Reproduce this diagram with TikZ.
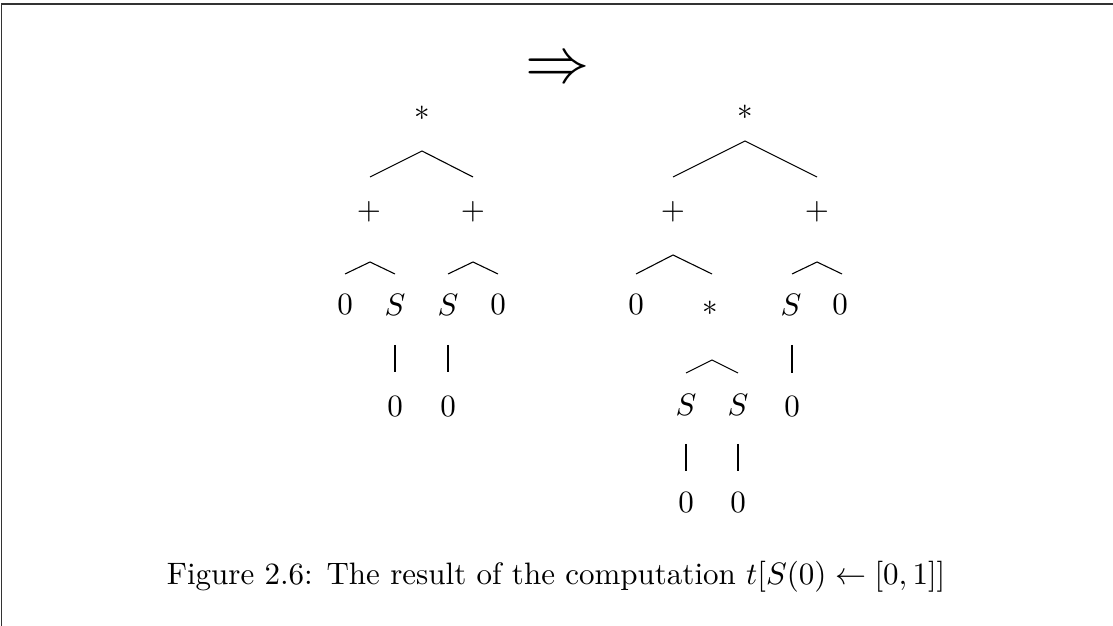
\documentclass[tikz,border=0pt]{standalone}
\usepackage{amsmath}
\begin{document}
\begin{tikzpicture}[x=0.3226pt,y=-0.3226pt,
  sym/.style={inner sep=0pt, anchor=center},
  edge/.style={line width=0.35pt},
  frame/.style={black!80, line width=0.5pt}]
\useasboundingbox (0,0) rectangle (1113,626);
% page frame
\coordinate (fl) at (1.5,626);
\coordinate (ftl) at (1.5,4);
\coordinate (ftr) at (1113,4);
\draw[frame] (fl) -- (ftl) -- (ftr);

% arrow between the trees
\node[sym] (arr) at (558,71) {\fontsize{19.5}{20}\selectfont$\Rightarrow$};

% ---- left tree ----
\node[sym] (Lr)  at (422,113) {$*$};
\node[sym] (Lp1) at (369,212) {$+$};
\node[sym] (Lp2) at (473,212) {$+$};
\node[sym] (La)  at (345,305) {$0$};
\node[sym] (Lb)  at (395,305) {$S$};
\node[sym] (Lc)  at (448,305) {$S$};
\node[sym] (Ld)  at (498,305) {$0$};
\node[sym] (Le)  at (395,407) {$0$};
\node[sym] (Lf)  at (448,407) {$0$};

\coordinate (LrA) at (422,151);
\coordinate (LrL) at (370,177);
\coordinate (LrR) at (473,177);
\draw[edge] (LrL) -- (LrA) -- (LrR);
\coordinate (Lp1A) at (370,262);
\coordinate (Lp1L) at (345,274);
\coordinate (Lp1R) at (395,274);
\draw[edge] (Lp1L) -- (Lp1A) -- (Lp1R);
\coordinate (Lp2A) at (473,262);
\coordinate (Lp2L) at (448,274);
\coordinate (Lp2R) at (498,274);
\draw[edge] (Lp2L) -- (Lp2A) -- (Lp2R);
\coordinate (LbT) at (395,345);
\coordinate (LbB) at (395,372);
\draw[edge] (LbT) -- (LbB);
\coordinate (LcT) at (448,345);
\coordinate (LcB) at (448,372);
\draw[edge] (LcT) -- (LcB);

% ---- right tree ----
\node[sym] (Rr)  at (745,112) {$*$};
\node[sym] (Rp1) at (673,212) {$+$};
\node[sym] (Rp2) at (817,212) {$+$};
\node[sym] (Ra)  at (636,305) {$0$};
\node[sym] (Rm)  at (710,308) {$*$};
\node[sym] (Rc)  at (791,305) {$S$};
\node[sym] (Rd)  at (840,305) {$0$};
\node[sym] (Rs1) at (686,405) {$S$};
\node[sym] (Rs2) at (738,405) {$S$};
\node[sym] (Rz)  at (792,407) {$0$};
\node[sym] (Rz1) at (686,503) {$0$};
\node[sym] (Rz2) at (738,503) {$0$};

\coordinate (RrA) at (745,141);
\coordinate (RrL) at (673,177);
\coordinate (RrR) at (817,177);
\draw[edge] (RrL) -- (RrA) -- (RrR);
\coordinate (Rp1A) at (673,255);
\coordinate (Rp1L) at (636,274);
\coordinate (Rp1R) at (712,274);
\draw[edge] (Rp1L) -- (Rp1A) -- (Rp1R);
\coordinate (Rp2A) at (817,262);
\coordinate (Rp2L) at (792,274);
\coordinate (Rp2R) at (842,274);
\draw[edge] (Rp2L) -- (Rp2A) -- (Rp2R);
\coordinate (RmA) at (712,360);
\coordinate (RmL) at (686,373);
\coordinate (RmR) at (738,373);
\draw[edge] (RmL) -- (RmA) -- (RmR);
\coordinate (RcT) at (792,345);
\coordinate (RcB) at (792,373);
\draw[edge] (RcT) -- (RcB);
\coordinate (Rs1T) at (686,444);
\coordinate (Rs1B) at (686,471);
\draw[edge] (Rs1T) -- (Rs1B);
\coordinate (Rs2T) at (738,444);
\coordinate (Rs2B) at (738,471);
\draw[edge] (Rs2T) -- (Rs2B);

% caption
\node[sym] (cap) at (556,577) {Figure 2.6: The result of the computation $t[S(0)\leftarrow[0,1]]$};
\end{tikzpicture}
\end{document}
